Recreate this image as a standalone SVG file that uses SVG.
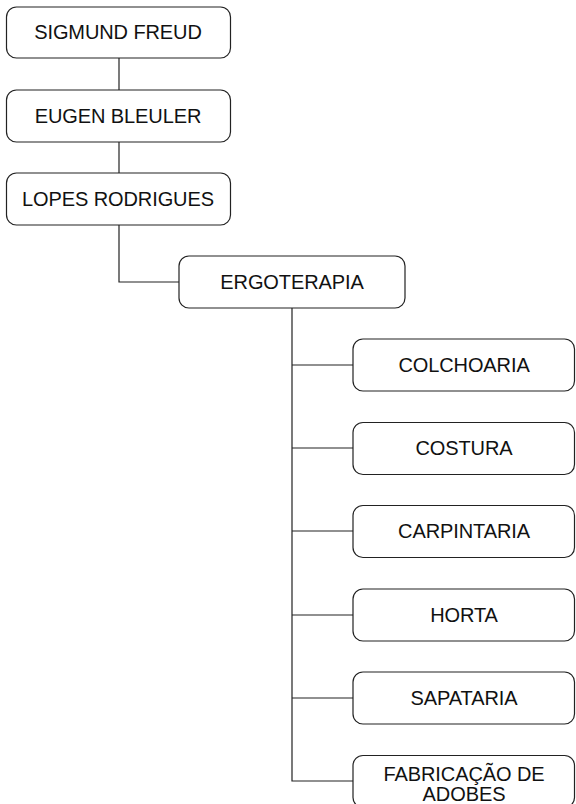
<svg xmlns="http://www.w3.org/2000/svg" width="576" height="804" viewBox="0 0 576 804">
<style>
.box{fill:#fff;stroke:#222;stroke-width:1.2}
.lbl{font-family:"Liberation Sans",Arial,sans-serif;font-size:20px;fill:#111;text-anchor:middle;letter-spacing:-0.1px}
.edge{fill:none;stroke:#222;stroke-width:1.2}
</style>
<rect width="576" height="804" fill="#fff"/>
<g id="connectors">
<path class="edge" d="M119 58 V90"/>
<path class="edge" d="M119 142 V173"/>
<path class="edge" d="M119 225 V282 H179"/>
<path class="edge" d="M292 308 V781 H353"/>
<path class="edge" d="M292 365 H353"/>
<path class="edge" d="M292 448 H353"/>
<path class="edge" d="M292 531 H353"/>
<path class="edge" d="M292 615 H353"/>
<path class="edge" d="M292 698 H353"/>
</g>
<g id="n-freud"><rect class="box" x="6.5" y="7" width="224" height="51" rx="10"/><text class="lbl" x="118" y="39">SIGMUND FREUD</text></g>
<g id="n-bleuler"><rect class="box" x="6.5" y="90" width="224" height="52" rx="10"/><text class="lbl" x="118" y="122.5">EUGEN BLEULER</text></g>
<g id="n-lopes"><rect class="box" x="6.5" y="173" width="224" height="52" rx="10"/><text class="lbl" x="118" y="205.5">LOPES RODRIGUES</text></g>
<g id="n-ergo"><rect class="box" x="179" y="256" width="226" height="52" rx="10"/><text class="lbl" x="292" y="288.5">ERGOTERAPIA</text></g>
<g id="n-colchoaria"><rect class="box" x="353" y="339" width="221.5" height="52" rx="10"/><text class="lbl" x="464" y="372">COLCHOARIA</text></g>
<g id="n-costura"><rect class="box" x="353" y="422.5" width="221.5" height="52" rx="10"/><text class="lbl" x="464" y="455">COSTURA</text></g>
<g id="n-carpintaria"><rect class="box" x="353" y="505.5" width="221.5" height="52" rx="10"/><text class="lbl" x="464" y="538">CARPINTARIA</text></g>
<g id="n-horta"><rect class="box" x="353" y="589" width="221.5" height="52" rx="10"/><text class="lbl" x="464" y="621.5">HORTA</text></g>
<g id="n-sapataria"><rect class="box" x="353" y="672" width="221.5" height="52" rx="10"/><text class="lbl" x="464" y="704.5">SAPATARIA</text></g>
<g id="n-adobes"><rect class="box" x="353" y="755.5" width="221.5" height="52" rx="10"/><text class="lbl" x="464" y="781">FABRICAÇÃO DE</text><text class="lbl" x="464" y="801">ADOBES</text></g>
</svg>
